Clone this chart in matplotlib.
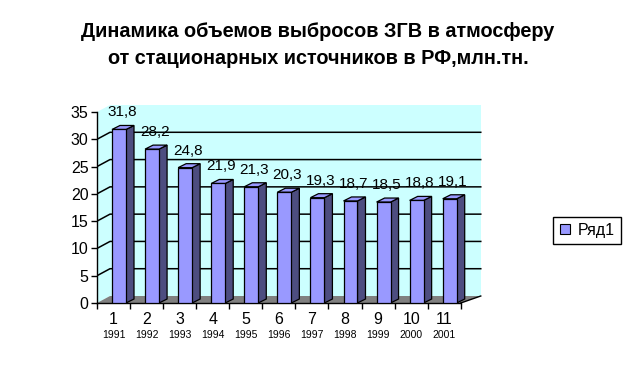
import matplotlib
matplotlib.use("Agg")
import matplotlib.pyplot as plt
from matplotlib.patches import Polygon
from matplotlib.lines import Line2D

plt.rcParams['font.family'] = ['Liberation Sans', 'DejaVu Sans']

# ---- data ----
categories = ['1', '2', '3', '4', '5', '6', '7', '8', '9', '10', '11']
years = ['1991', '1992', '1993', '1994', '1995', '1996', '1997', '1998', '1999', '2000', '2001']
values = [31.8, 28.2, 24.8, 21.9, 21.3, 20.3, 19.3, 18.7, 18.5, 18.8, 19.1]
value_labels = ['31,8', '28,2', '24,8', '21,9', '21,3', '20,3', '19,3', '18,7', '18,5', '18,8', '19,1']
yticks = [0, 5, 10, 15, 20, 25, 30, 35]
series_name = 'Ряд1'
title_lines = ['Динамика объемов выбросов ЗГВ в атмосферу',
               'от стационарных источников в РФ,млн.тн.']

# ---- style ----
W, H = 636, 385
fig = plt.figure(figsize=(W / 100, H / 100), dpi=100)
fig.patch.set_facecolor('white')

px_cat = 33.07   # pixels per category
px_val = 5.457   # pixels per value unit
x0_px, y0_px = 97, 303
ax_right_px, ax_top_px = 486, 100
ax = fig.add_axes([x0_px / W, (H - y0_px) / H,
                   (ax_right_px - x0_px) / W, (y0_px - ax_top_px) / H])
ax.set_xlim(0, (ax_right_px - x0_px) / px_cat)
ax.set_ylim(0, (y0_px - ax_top_px) / px_val)
ax.patch.set_visible(False)

n = len(values)
ymax = 35
wall_dy = 7 / px_val
wall_dx_left = 13 / px_cat
wall_dx_right = 20 / px_cat

def wall_dx(x):
    return wall_dx_left + (wall_dx_right - wall_dx_left) * x / n

wall_col = '#CCFFFF'
# side wall
ax.add_patch(Polygon([(0, 0), (wall_dx(0), wall_dy), (wall_dx(0), ymax + wall_dy), (0, ymax)],
                     closed=True, facecolor=wall_col, edgecolor='none', zorder=0))
# back wall
ax.add_patch(Polygon([(wall_dx(0), wall_dy), (n + wall_dx(n), wall_dy),
                      (n + wall_dx(n), ymax + wall_dy), (wall_dx(0), ymax + wall_dy)],
                     closed=True, facecolor=wall_col, edgecolor='none', zorder=0))
# floor
ax.add_patch(Polygon([(0, 0), (n, 0), (n + wall_dx(n), wall_dy), (wall_dx(0), wall_dy)],
                     closed=True, facecolor='#808080', edgecolor='none', zorder=1))
ax.plot([n, n + wall_dx(n)], [0, wall_dy], color='black', lw=1.0, zorder=1.5)

# gridlines
for t in yticks[1:-1]:
    ax.plot([0, wall_dx(0), n + wall_dx(n)], [t, t + wall_dy, t + wall_dy],
            color='black', lw=1.1, zorder=1)

# bars
front_col = '#9999FF'
side_col = '#4D4D80'
bl, br = 0.454, 0.877
sdx, sdy = 8 / px_cat, 4 / px_val
for i, v in enumerate(values):
    L, R = i + bl, i + br
    ax.add_patch(Polygon([(R, 0), (R + sdx, sdy), (R + sdx, v + sdy), (R, v)], closed=True,
                         facecolor=side_col, edgecolor='black', lw=0.9, zorder=3))
    ax.add_patch(Polygon([(L, v), (R, v), (R + sdx, v + sdy), (L + sdx, v + sdy)], closed=True,
                         facecolor=front_col, edgecolor='black', lw=0.9, zorder=3))
    ax.add_patch(Polygon([(L, 0), (R, 0), (R, v), (L, v)], closed=True,
                         facecolor=front_col, edgecolor='black', lw=0.9, zorder=4))
    ax.text(i + 0.75, v + 17 / px_val, value_labels[i], ha='center', va='center',
            fontsize=11, color='black', zorder=5)

# axes spines & ticks
for s in ['top', 'right']:
    ax.spines[s].set_visible(False)
ax.spines['left'].set_bounds(0, ymax)
ax.spines['bottom'].set_bounds(0, n)
ax.spines['left'].set_linewidth(1.0)
ax.spines['bottom'].set_linewidth(1.0)
ax.set_yticks(yticks)
ax.set_yticklabels([str(t) for t in yticks], fontsize=11.5)
ax.tick_params(axis='y', length=4, width=1.0, pad=2)
ax.set_xticks(range(n + 1))
ax.set_xticklabels([])
ax.tick_params(axis='x', length=4, width=1.0)

for i in range(n):
    ax.text(i + 0.5, -17 / px_val, categories[i], ha='center', va='center', fontsize=11.5)
    ax.text(i + 0.5, -32 / px_val, years[i], ha='center', va='center', fontsize=7.5)

# title
fig.text(0.5, 1 - 31.7 / H, title_lines[0], ha='center', va='center',
         fontsize=14.3, fontweight='bold')
fig.text(0.5, 1 - 58.3 / H, title_lines[1], ha='center', va='center',
         fontsize=14.3, fontweight='bold')

# legend
handle = Line2D([], [], marker='s', linestyle='none', markersize=7,
                markerfacecolor=front_col, markeredgecolor='black', markeredgewidth=0.8)
leg = fig.legend([handle], [series_name], loc='center',
                 bbox_to_anchor=(587 / W, 1 - 230.5 / H), frameon=True, fancybox=False,
                 framealpha=1, edgecolor='black', fontsize=11.5, handlelength=0.8,
                 handletextpad=0.4, borderpad=0.35, borderaxespad=0)
leg.get_frame().set_linewidth(1.0)

fig.savefig('out.png', dpi=100)
